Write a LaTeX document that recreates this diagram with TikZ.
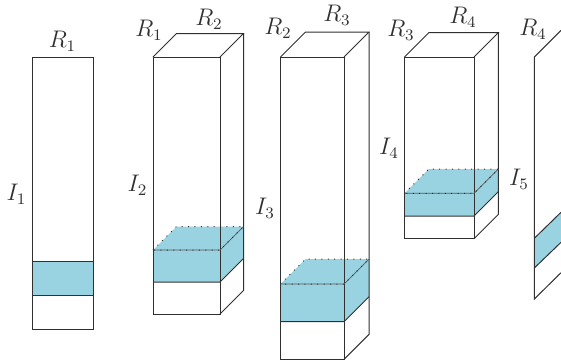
\documentclass[tikz,border=0pt]{standalone}
\usepackage{tikz}
\definecolor{ink}{HTML}{303030}
\definecolor{water}{HTML}{99D3E2}
\tikzset{
  edge/.style={line width=0.5pt,draw=ink},
  dotedge/.style={line width=0.5pt,draw=ink,dash pattern=on 0.5pt off 2.7pt},
  thinedge/.style={line width=0.35pt,draw=ink!80},
  lbl/.style={inner sep=0pt,text=ink,font=\large}
}
\begin{document}
\begin{tikzpicture}[x=0.5pt,y=-0.5pt]
  \useasboundingbox (0,0) rectangle (561,360);
  \clip (0,0) rectangle (561,360);
  \def\yt{57}

  % flat first column
  \fill[water] (32,261) rectangle (93,295);
  \draw[edge] (32,\yt) rectangle (93,329);
  \draw[edge] (32,261) -- (93,261);
  \draw[edge] (32,295) -- (93,295);

  % left, right, depth, bottom, water top, water bottom
  \foreach \xl/\xr/\d/\yb/\wt/\wb in {153/220/23.5/314/250/282,280.5/344/25/359.3/284/321.7,404.5/474/24.3/238.7/193.3/216} {
    \fill[water] (\xl,\wt) rectangle (\xr,\wb);
    \fill[water] (\xr,\wt) -- (\xr+\d,\wt-\d) -- (\xr+\d,\wb-\d) -- (\xr,\wb) -- cycle;
    \fill[water] (\xl,\wt) -- (\xl+\d,\wt-\d) -- (\xr+\d,\wt-\d) -- (\xr,\wt) -- cycle;
    \draw[edge] (\xl,\yt) rectangle (\xr,\yb);
    \draw[edge] (\xl,\yt) -- (\xl+\d,\yt-\d) -- (\xr+\d,\yt-\d) -- (\xr,\yt);
    \draw[edge] (\xr+\d,\yt-\d) -- (\xr+\d,\yb-\d) -- (\xr,\yb);
    \draw[edge] (\xl,\wb) -- (\xr,\wb) -- (\xr+\d,\wb-\d);
    \draw[thinedge] (\xl,\wt) -- (\xr,\wt) -- (\xr+\d,\wt-\d);
    \draw[dotedge] (\xl,\wt) -- (\xl+\d,\wt-\d) -- (\xr+\d,\wt-\d) -- (\xr,\wt) -- (\xl,\wt);
  }

  % cut off at the right margin
  \fill[water] (534.3,238.3) -- (561,212.3) -- (561,242.3) -- (534.3,268) -- cycle;
  \draw[edge] (561,30.4) -- (534.3,57) -- (534.3,299) -- (561,272.7);
  \draw[edge] (534.3,238.3) -- (561,212.3);
  \draw[edge] (534.3,268) -- (561,242.3);

  \node[lbl] (r1a) at (62.5,41) {$R_1$};
  \node[lbl] (i1) at (16.5,194) {$I_1$};
  \node[lbl] (r1b) at (149,30) {$R_1$};
  \node[lbl] (r2a) at (209,19) {$R_2$};
  \node[lbl] (i2) at (137.5,185) {$I_2$};
  \node[lbl] (r2b) at (278,28) {$R_2$};
  \node[lbl] (r3a) at (337,15) {$R_3$};
  \node[lbl] (i3) at (265,208) {$I_3$};
  \node[lbl] (r3b) at (401,30) {$R_3$};
  \node[lbl] (r4a) at (463,17) {$R_4$};
  \node[lbl] (i4) at (389,148) {$I_4$};
  \node[lbl] (i5) at (519,179) {$I_5$};
  \node[lbl] (r4b) at (533,29) {$R_4$};
\end{tikzpicture}
\end{document}
